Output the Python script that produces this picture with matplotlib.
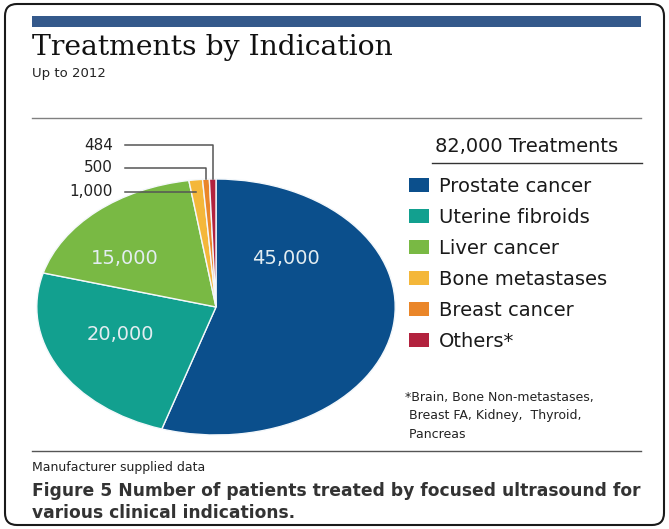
import numpy as np
import matplotlib
matplotlib.use("Agg")
import matplotlib.pyplot as plt
import matplotlib.patches as mpatches
import matplotlib.transforms as mtransforms

# data
indications = ["Prostate cancer", "Uterine fibroids", "Liver cancer",
               "Bone metastases", "Breast cancer", "Others*"]
treatments = [45000, 20000, 15000, 1000, 500, 484]
colors = ["#0b4f8c", "#12a08f", "#79b944", "#f4b73a", "#ea8629", "#b2223e"]

footnote = ["*Brain, Bone Non-metastases,", " Breast FA, Kidney,  Thyroid,", " Pancreas"]
caption = ["Figure 5 Number of patients treated by focused ultrasound for",
           "various clinical indications."]

W, H = 669, 529
CX, CY, R = 216, 307, 128   # pie centre / vertical radius in pixels
SX = 1.4                    # the pie in the picture is stretched sideways

fig = plt.figure(figsize=(W / 100, H / 100), dpi=100)
ax = fig.add_axes([0, 0, 1, 1])

# y axis is inverted (pixel rows), so start at -90 and go "counterclock" = clockwise on screen
wedges, _ = ax.pie(treatments, colors=colors, startangle=-90, counterclock=True,
                   center=(CX, CY), radius=R,
                   wedgeprops=dict(edgecolor="#f4f8fb", linewidth=1.0))
ax.set_xlim(0, W)
ax.set_ylim(H, 0)
ax.set_aspect("auto")
ax.axis("off")

stretch = mtransforms.Affine2D().translate(-CX, -CY).scale(SX, 1).translate(CX, CY)
for w in wedges:
    w.set_transform(stretch + ax.transData)

# value labels on the three big slices
label_pos = [(286, 258), (120, 335), (125, 258)]
for v, (x, y) in zip(treatments[:3], label_pos):
    ax.text(x, y, f"{v:,}", ha="center", va="center", fontsize=14, color="#e3edf1")

# leader lines for the three thin slices
small_y = {3: 192, 4: 168, 5: 145}
for i, ly in small_y.items():
    w = wedges[i]
    mid = np.radians((w.theta1 + w.theta2) / 2)
    px = CX + R * SX * np.cos(mid)
    py = CY + R * np.sin(mid)
    if ly < py:
        ax.plot([125, px, px], [ly, ly, py], color="#555555", lw=1.1)
    else:
        ax.plot([125, px], [ly, ly], color="#555555", lw=1.1)
    ax.text(113, ly, f"{treatments[i]:,}", ha="right", va="center", fontsize=11, color="#222222")

# legend
handles = [mpatches.Patch(facecolor=c, edgecolor="none") for c in colors]
ax.legend(handles, indications, loc="upper left", bbox_to_anchor=(409, 176.5),
          bbox_transform=ax.transData, frameon=False, fontsize=14,
          handlelength=1.05, handleheight=0.72, handletextpad=0.5,
          labelspacing=0.62, borderpad=0, borderaxespad=0, labelcolor="#1a1a1a")

total = int(round(sum(treatments), -3))
ax.text(435, 147, f"{total:,} Treatments", ha="left", va="center", fontsize=14, color="#1a1a1a")
ax.plot([432, 642], [163, 163], color="#333333", lw=1)

for k, line in enumerate(footnote):
    ax.text(405, 398 + k * 18, line, ha="left", va="center", fontsize=9, color="#222222")

# header
ax.add_patch(mpatches.Rectangle((32, 16), 609, 11, facecolor="#34598b", edgecolor="none"))
ax.text(32, 55, "Treatments by Indication", ha="left", va="baseline",
        fontsize=20.3, family="DejaVu Serif", color="#111111")
ax.text(32, 73, "Up to 2012", ha="left", va="center", fontsize=9.5, color="#222222")
ax.plot([32, 641], [118, 118], color="#808080", lw=1)

# footer
ax.plot([32, 641], [451, 451], color="#555555", lw=1)
ax.text(32, 467, "Manufacturer supplied data", ha="left", va="center", fontsize=9, color="#222222")
for k, line in enumerate(caption):
    ax.text(32, 491 + k * 22, line, ha="left", va="center", fontsize=12.3,
            fontweight="bold", color="#333333")

# rounded frame round the whole panel
ax.add_patch(mpatches.FancyBboxPatch((5, 4), 659, 521, boxstyle="round,pad=0,rounding_size=12",
                                     facecolor="none", edgecolor="#1a1a1a", lw=1.5))

fig.savefig("out.png", dpi=100)
